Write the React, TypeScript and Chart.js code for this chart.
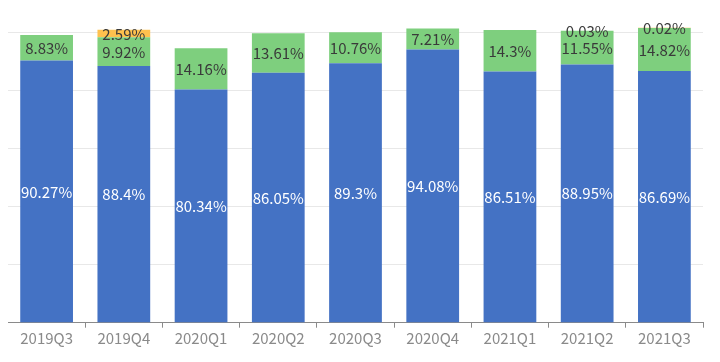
import React, { useEffect, useRef } from "react";
import { Chart, registerables } from "chart.js";

Chart.register(...registerables);

const categories = ["2019Q3", "2019Q4", "2020Q1", "2020Q2", "2020Q3", "2020Q4", "2021Q1", "2021Q2", "2021Q3"];
const blueValues = [90.27, 88.4, 80.34, 86.05, 89.3, 94.08, 86.51, 88.95, 86.69];
const greenValues = [8.83, 9.92, 14.16, 13.61, 10.76, 7.21, 14.3, 11.55, 14.82];
const orangeValues = [0, 2.59, 0, 0, 0, 0, 0, 0.03, 0.02];
const yTicks = [0, 20, 40, 60, 80, 100];

const FONT = "'Noto Sans CJK SC', 'Noto Sans', sans-serif";

const labelPlugin = {
  id: "segLabels",
  afterDatasetsDraw(chart: any) {
    const ctx = chart.ctx;
    ctx.save();
    ctx.font = `15px ${FONT}`;
    ctx.textAlign = "center";
    ctx.textBaseline = "middle";
    chart.data.datasets.forEach((ds: any, di: number) => {
      const meta = chart.getDatasetMeta(di);
      meta.data.forEach((el: any, i: number) => {
        const v = ds.data[i];
        if (!v) return;
        ctx.fillStyle = ds.labelColor;
        ctx.fillText(`${v}%`, el.x, (el.y + el.base) / 2 + 0.5);
      });
    });
    ctx.restore();
  },
};

export default function App() {
  const ref = useRef<HTMLCanvasElement>(null);
  useEffect(() => {
    if (!ref.current) return;
    Chart.defaults.font.family = FONT;
    const chart = new Chart(ref.current, {
      type: "bar",
      data: {
        labels: categories,
        datasets: [
          { data: blueValues, backgroundColor: "#4472c4", labelColor: "#ffffff" } as any,
          { data: greenValues, backgroundColor: "#7ecf7e", labelColor: "#3a3a3a" } as any,
          { data: orangeValues, backgroundColor: "#ffc14e", labelColor: "#3a3a3a" } as any,
        ],
      },
      options: {
        animation: false,
        responsive: false,
        maintainAspectRatio: false,
        layout: { padding: { top: 24.3, right: 17, left: 0, bottom: 12.3 } },
        datasets: { bar: { categoryPercentage: 1, barPercentage: 0.683, clip: false as any } },
        plugins: { legend: { display: false }, tooltip: { enabled: false } },
        scales: {
          x: {
            stacked: true,
            grid: { drawOnChartArea: false, drawTicks: true, tickLength: 5, color: "#8a8a8a" },
            border: { display: true, color: "#8a8a8a" },
            ticks: { color: "#8a8a8a", font: { size: 15, family: FONT }, padding: 2 },
          },
          y: {
            stacked: true,
            min: 0,
            max: 100,
            afterBuildTicks: (s: any) => {
              s.ticks = yTicks.map((v) => ({ value: v }));
            },
            grid: { color: "#e8e8e8", drawTicks: false },
            border: { display: false },
            ticks: { display: false },
          },
        },
      },
      plugins: [labelPlugin],
    });
    return () => chart.destroy();
  }, []);
  return (
    <div style={{ width: 712, height: 354 }}>
      <canvas ref={ref} width={712} height={354} style={{ width: 712, height: 354 }} />
    </div>
  );
}
